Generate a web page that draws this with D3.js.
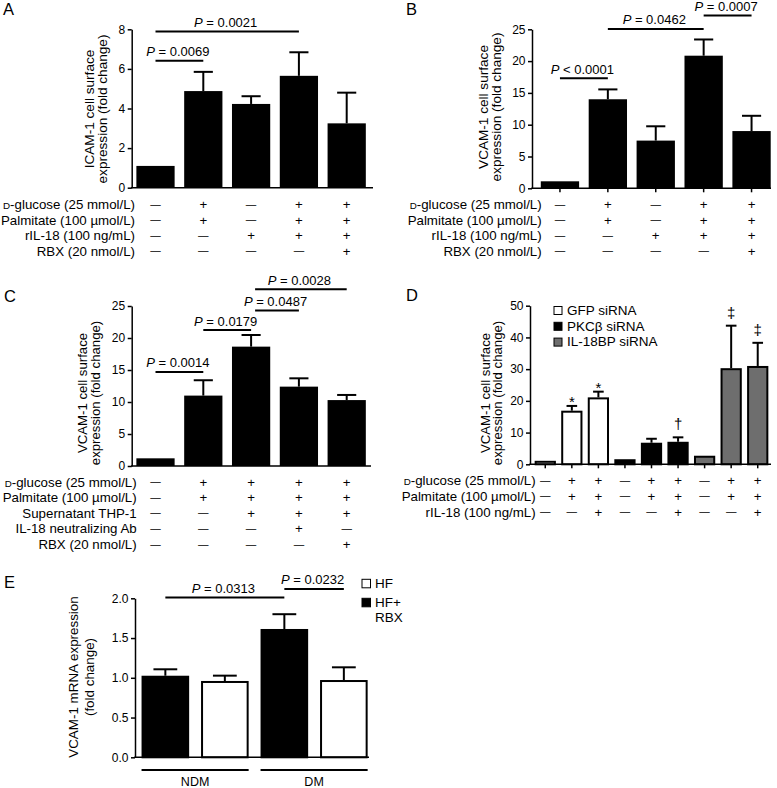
<!DOCTYPE html>
<html><head><meta charset="utf-8">
<script src="https://cdn.jsdelivr.net/npm/d3@7"></script>
<style>
body{margin:0;background:#fff}
svg{display:block}
text{font-family:"Liberation Sans",Arial,Helvetica,sans-serif;fill:#000;white-space:pre}
</style>
</head><body>
<svg id="c" width="777" height="788"></svg>
<script>
// ---------------- DATA ----------------
// Panel A : ICAM-1
const rowsA = ["D|-glucose (25 mmol/L)", "Palmitate (100 µmol/L)", "rIL-18 (100 ng/mL)", "RBX (20 nmol/L)"];
const signsA = [
  ["-","+","-","+","+"],
  ["-","+","-","+","+"],
  ["-","-","+","+","+"],
  ["-","-","-","-","+"]
];
const meanA = [1.1, 4.88, 4.23, 5.65, 3.25];
const errTopA = [1.13, 5.85, 4.62, 6.84, 4.8];
const pFromA = [0, 0], pToA = [1, 3], pLevelA = [6.41, 7.89], pTextA = ["= 0.0069", "= 0.0021"];
const ticksA = [0, 2, 4, 6, 8];

// Panel B : VCAM-1
const rowsB = rowsA;
const signsB = signsA;
const meanB = [1.1, 14.0, 7.5, 20.85, 9.0];
const errTopB = [1.1, 15.55, 9.75, 23.4, 11.4];
const pFromB = [0, 1, 3], pToB = [1, 3, 4], pLevelB = [17.3, 25.05, 27.17], pTextB = ["< 0.0001", "= 0.0462", "= 0.0007"];
const ticksB = [0, 5, 10, 15, 20, 25];

// Panel C : VCAM-1 with THP-1 supernatant
const rowsC = ["D|-glucose (25 mmol/L)", "Palmitate (100 µmol/L)", "Supernatant THP-1", "IL-18 neutralizing Ab", "RBX (20 nmol/L)"];
const signsC = [
  ["-","+","+","+","+"],
  ["-","+","+","+","+"],
  ["-","-","+","+","+"],
  ["-","-","-","+","-"],
  ["-","-","-","-","+"]
];
const meanC = [1.2, 11.0, 18.65, 12.4, 10.3];
const errTopC = [1.2, 13.4, 20.47, 13.7, 11.1];
const pFromC = [0, 1, 2, 2], pToC = [1, 2, 3, 4], pLevelC = [14.7, 21.25, 24.3, 27.6], pTextC = ["= 0.0014", "= 0.0179", "= 0.0487", "= 0.0028"];
const ticksC = [0, 5, 10, 15, 20, 25];

// Panel D : siRNA
const seriesD = ["GFP siRNA", "PKCβ siRNA", "IL-18BP siRNA"];
const groupD = [0, 0, 0, 1, 1, 1, 2, 2, 2];
const rowsD = ["D|-glucose (25 mmol/L)", "Palmitate (100 µmol/L)", "rIL-18 (100 ng/mL)"];
const signsD = [
  ["-","+","+","-","+","+","-","+","+"],
  ["-","+","+","-","+","+","-","+","+"],
  ["-","-","+","-","-","+","-","-","+"]
];
const meanD = [1.1, 16.9, 21.1, 1.6, 6.8, 7.1, 2.7, 30.3, 31.0];
const errTopD = [1.1, 18.4, 22.9, 1.6, 8.05, 8.5, 3.45, 43.7, 38.3];
const marksD = ["", "*", "*", "", "", "†", "", "‡", "‡"];
const ticksD = [0, 10, 20, 30, 40, 50];

// Panel E : mRNA
const groupsE = ["NDM", "DM"];
const seriesE = ["HF", "HF+ RBX"];
const barSeriesE = [1, 0, 1, 0];       // which series each bar shows (as drawn)
const meanE = [1.026, 0.96, 1.614, 0.972];
const errTopE = [1.107, 1.027, 1.80, 1.132];
const pFromE = [0, 2], pToE = [2, 3], pLevelE = [2.01, 2.117], pTextE = ["= 0.0313", "= 0.0232"];
const ticksE = [0, 0.5, 1.0, 1.5, 2.0];

// ---------------- DRAWING ----------------
const svg = d3.select("#c");
const FS_P = 13, FS_ROW = 13.3, FS_LEG = 13.5, FS_TICK = 12;

function rowLabel(g, label, x, y) {
  const t = g.append("text").attr("x", x).attr("y", y).attr("text-anchor", "end").attr("font-size", FS_ROW);
  if (label.includes("|")) {
    const [sc, rest] = label.split("|");
    t.append("tspan").attr("font-size", 9.8).text(sc);
    t.append("tspan").text(rest);
  } else t.text(label);
}

function drawPanel(c) {
  const g = svg.append("g");
  g.append("text").attr("x", c.letterPos[0]).attr("y", c.letterPos[1]).attr("font-size", 16.5).text(c.letter);

  const y = d3.scaleLinear().domain([0, c.yMax]).range(c.yPx);
  const x = d3.scaleBand().domain(d3.range(c.means.length)).range(c.band).paddingInner(0.2).paddingOuter(0.1);
  const cx = i => x(i) + x.bandwidth() / 2;
  const cap = x.bandwidth() * 0.25;

  // error bars (upper only)
  const eg = g.append("g").attr("stroke", "#000").attr("stroke-width", 2);
  c.errs.forEach((e, i) => {
    if (e - c.means[i] < 0.02 * c.yMax) return;
    eg.append("line").attr("x1", cx(i)).attr("x2", cx(i)).attr("y1", y(c.means[i])).attr("y2", y(e));
    eg.append("line").attr("x1", cx(i) - cap).attr("x2", cx(i) + cap).attr("y1", y(e)).attr("y2", y(e));
  });

  // bars
  g.append("g").selectAll("rect").data(c.means).join("rect")
    .attr("x", (d, i) => x(i) + (c.barStroke ? 1 : 0))
    .attr("width", x.bandwidth() - (c.barStroke ? 2 : 0))
    .attr("y", d => y(d) + (c.barStroke ? 1 : 0))
    .attr("height", d => Math.max(0, y(0) - y(d) - (c.barStroke ? 1 : 0)))
    .attr("fill", (d, i) => c.fills[i])
    .attr("stroke", c.barStroke ? "#000" : "none")
    .attr("stroke-width", c.barStroke || 0);

  // y axis
  const ya = g.append("g").attr("transform", `translate(${c.yAxisX},0)`)
    .call(d3.axisLeft(y).tickValues(c.ticks).tickSize(4).tickPadding(2.5).tickSizeOuter(0)
      .tickFormat(c.fmt || d3.format("d")));
  ya.attr("font-size", FS_TICK);
  ya.select(".domain").attr("stroke-width", 1.5);
  ya.selectAll(".tick line").attr("stroke-width", 1.5);
  ya.selectAll(".tick text").attr("font-size", FS_TICK);

  // x axis line
  g.append("line").attr("x1", c.yAxisX - 0.75).attr("x2", c.axisEnd).attr("y1", y(0)).attr("y2", y(0))
    .attr("stroke", "#000").attr("stroke-width", 1.5);
  if (c.xTicks) {
    c.means.forEach((d, i) => g.append("line").attr("x1", cx(i)).attr("x2", cx(i))
      .attr("y1", y(0)).attr("y2", y(0) + 4).attr("stroke", "#000").attr("stroke-width", 1.5));
  }

  // p-value brackets
  c.pFrom.forEach((f, k) => {
    const x1 = cx(f) + (c.pShift ? c.pShift[k] : 0), x2 = cx(c.pTo[k]), yy = y(c.pLevel[k]);
    g.append("line").attr("x1", x1).attr("x2", x2).attr("y1", yy).attr("y2", yy)
      .attr("stroke", "#000").attr("stroke-width", 2);
    const t = g.append("text").attr("x", (x1 + x2) / 2 - 1.5).attr("y", yy - 4.5)
      .attr("text-anchor", "middle").attr("font-size", FS_P);
    t.append("tspan").attr("font-style", "italic").text("P");
    t.append("tspan").text(" " + c.pText[k]);
  });

  // y label
  c.ylab.forEach((line, k) => {
    g.append("text").attr("transform", `translate(${c.ylabX[k]},${c.ylabY}) rotate(-90)`)
      .attr("text-anchor", "middle").attr("font-size", c.ylabFS).text(line);
  });

  // treatment rows
  if (c.rows) {
    c.rows.forEach((lab, r) => {
      const yy = c.rowY[r];
      rowLabel(g, lab, c.rowRight, yy);
      c.signs[r].forEach((s, i) => {
        if (s === "+") {
          g.append("text").attr("x", cx(i)).attr("y", yy).attr("text-anchor", "middle").attr("font-size", FS_ROW).text("+");
        } else {
          g.append("text").attr("x", cx(i)).attr("y", yy - 1.5).attr("text-anchor", "middle").attr("font-size", 10.5).text("—");
        }
      });
    });
  }
  return { g, x, y, cx };
}

// Panel A
drawPanel({
  letter: "A", letterPos: [3, 15],
  yMax: 8, yPx: [187.7, 29.3], ticks: ticksA, yAxisX: 131.7,
  band: [131.6, 370.6], axisEnd: 373, xTicks: false,
  means: meanA, errs: errTopA, fills: meanA.map(() => "#000"),
  pFrom: pFromA, pTo: pToA, pLevel: pLevelA, pText: pTextA,
  ylab: ["ICAM-1 cell surface", "expression (fold change)"], ylabX: [94, 107], ylabY: 109, ylabFS: 13.6,
  rows: rowsA, signs: signsA, rowRight: 135, rowY: [209, 224.5, 240, 255.5]
});

// Panel B
drawPanel({
  letter: "B", letterPos: [406, 15],
  yMax: 25, yPx: [188.3, 29.3], ticks: ticksB, yAxisX: 532,
  band: [536, 775.5], axisEnd: 771, xTicks: true,
  means: meanB, errs: errTopB, fills: meanB.map(() => "#000"),
  pFrom: pFromB, pTo: pToB, pLevel: pLevelB, pText: pTextB,
  ylab: ["VCAM-1 cell surface", "expression (fold change)"], ylabX: [488, 501], ylabY: 107, ylabFS: 13.6,
  rows: rowsB, signs: signsB, rowRight: 541.7, rowY: [209, 224.5, 240, 255.5]
});

// Panel C
drawPanel({
  letter: "C", letterPos: [4, 302],
  yMax: 25, yPx: [466, 306], ticks: ticksC, yAxisX: 131.7,
  band: [131.6, 370.6], axisEnd: 371, xTicks: false,
  means: meanC, errs: errTopC, fills: meanC.map(() => "#000"),
  pFrom: pFromC, pTo: pToC, pLevel: pLevelC, pText: pTextC, pShift: [0, 0, 4, 4],
  ylab: ["VCAM-1 cell surface", "expression (fold change)"], ylabX: [87, 100], ylabY: 393, ylabFS: 13.2,
  rows: rowsC, signs: signsC, rowRight: 136.7, rowY: [486.7, 502.3, 517.7, 533.3, 549]
});

// Panel D
const fillsD = ["#ffffff", "#000000", "#6e6e6e"];
const pd = drawPanel({
  letter: "D", letterPos: [406, 301],
  yMax: 50, yPx: [464.3, 305.7], ticks: ticksD, yAxisX: 530,
  band: [532, 771], axisEnd: 771, xTicks: true, barStroke: 2,
  means: meanD, errs: errTopD, fills: groupD.map(s => fillsD[s]),
  pFrom: [], pTo: [], pLevel: [], pText: [],
  ylab: ["VCAM-1 cell surface", "expression (fold change)"], ylabX: [490, 502], ylabY: 393, ylabFS: 13.2,
  rows: rowsD, signs: signsD, rowRight: 535.7, rowY: [485, 500.7, 516.7]
});
marksD.forEach((m, i) => {
  if (!m) return;
  const off = m === "*" ? 1.5 : -8;
  pd.g.append("text").attr("x", pd.cx(i)).attr("y", pd.y(errTopD[i]) + off)
    .attr("text-anchor", "middle").attr("font-size", 15).text(m);
});
seriesD.forEach((s, k) => {
  const yy = 306.5 + k * 15.8;
  pd.g.append("rect").attr("x", 554).attr("y", yy).attr("width", 8).attr("height", 8)
    .attr("fill", fillsD[k]).attr("stroke", "#000").attr("stroke-width", 1);
  pd.g.append("text").attr("x", 567).attr("y", yy + 8.3).attr("font-size", FS_LEG).text(s);
});

// Panel E
const fillsE = ["#ffffff", "#000000"];
const pe = drawPanel({
  letter: "E", letterPos: [4, 588],
  yMax: 2.0, yPx: [757.3, 598.3], ticks: ticksE, yAxisX: 135, fmt: d3.format(".1f"),
  band: [135.6, 373.6], axisEnd: 369, xTicks: false, barStroke: 2,
  means: meanE, errs: errTopE, fills: barSeriesE.map(s => fillsE[s]),
  pFrom: pFromE, pTo: pToE, pLevel: pLevelE, pText: pTextE,
  ylab: ["VCAM-1 mRNA expression", "(fold change)"], ylabX: [78, 94], ylabY: 677, ylabFS: 13.4
});
groupsE.forEach((gname, k) => {
  const i0 = k * 2, i1 = k * 2 + 1;
  const x1 = pe.x(i0), x2 = pe.x(i1) + pe.x.bandwidth();
  pe.g.append("line").attr("x1", x1).attr("x2", x2).attr("y1", 770).attr("y2", 770)
    .attr("stroke", "#000").attr("stroke-width", 2);
  pe.g.append("text").attr("x", (x1 + x2) / 2).attr("y", 785.5).attr("text-anchor", "middle")
    .attr("font-size", 12.5).text(gname);
});
seriesE.forEach((s, k) => {
  const yy = 579.3 + k * 19;
  pe.g.append("rect").attr("x", 362).attr("y", yy).attr("width", 8.5).attr("height", 8.5)
    .attr("fill", fillsE[k]).attr("stroke", "#000").attr("stroke-width", 1);
  s.split(" ").forEach((part, j) => {
    pe.g.append("text").attr("x", 375).attr("y", yy + 8.7 + j * 15).attr("font-size", FS_LEG).text(part);
  });
});
</script>
</body></html>
